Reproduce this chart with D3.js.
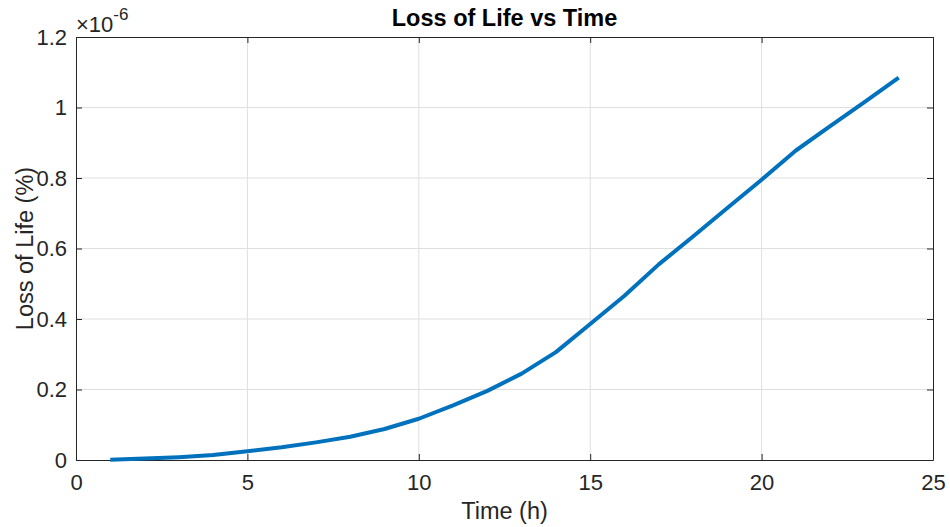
<!DOCTYPE html>
<html>
<head>
<meta charset="utf-8">
<script src="https://cdn.jsdelivr.net/npm/d3@7"></script>
<style>
  body { margin: 0; background: #fff; }
  svg { display: block; font-family: "Liberation Sans", Arial, sans-serif; }
</style>
</head>
<body>
<svg></svg>
<script>
// hours and loss of life (in units of 1e-6 %)
const hours = [1, 2, 3, 4, 5, 6, 7, 8, 9, 10, 11, 12, 13, 14, 15, 16, 17, 18, 19, 20, 21, 22, 23, 24];
const loss = [0.001, 0.004, 0.008, 0.014, 0.025, 0.036, 0.050, 0.066, 0.088, 0.117, 0.155, 0.196,
              0.245, 0.306, 0.386, 0.466, 0.555, 0.634, 0.715, 0.795, 0.878, 0.947, 1.015, 1.085];
const xTicks = [0, 5, 10, 15, 20, 25];
const yTicks = [0, 0.2, 0.4, 0.6, 0.8, 1, 1.2];

const width = 950, height = 527;
const margin = {left: 76, right: 17, top: 37, bottom: 67};
const textColor = "#262626";

const svg = d3.select("svg")
  .attr("width", width)
  .attr("height", height);

const x = d3.scaleLinear().domain([0, 25]).range([margin.left, width - margin.right]);
const y = d3.scaleLinear().domain([0, 1.2]).range([height - margin.bottom, margin.top]);

// grid
svg.append("g")
  .selectAll("line")
  .data(xTicks.slice(1, -1))
  .enter()
  .append("line")
  .attr("x1", d => x(d)).attr("x2", d => x(d))
  .attr("y1", y(0)).attr("y2", y(1.2))
  .attr("stroke", "#dfdfdf");

svg.append("g")
  .selectAll("line")
  .data(yTicks.slice(1, -1))
  .enter()
  .append("line")
  .attr("x1", x(0)).attr("x2", x(25))
  .attr("y1", d => y(d)).attr("y2", d => y(d))
  .attr("stroke", "#dfdfdf");

// axes, ticks point inward (matlab style)
const fmt = d => d === 0 ? "0" : (Number.isInteger(d) ? String(d) : d.toFixed(1));

const styleAxis = g => {
  g.select(".domain").attr("stroke", textColor);
  g.selectAll(".tick line").attr("stroke", textColor);
  g.selectAll(".tick text").attr("fill", textColor).style("font-size", "22px");
};

svg.append("g")
  .attr("transform", `translate(0,${y(0)})`)
  .call(d3.axisBottom(x).tickValues(xTicks).tickSize(-6).tickPadding(14).tickSizeOuter(0).tickFormat(fmt))
  .call(styleAxis)
  .call(g => g.selectAll(".tick text").attr("dy", "0.71em"));

svg.append("g")
  .attr("transform", `translate(${x(0)},0)`)
  .call(d3.axisLeft(y).tickValues(yTicks).tickSize(-6).tickPadding(9).tickSizeOuter(0).tickFormat(fmt))
  .call(styleAxis);

svg.append("g")
  .attr("transform", `translate(0,${y(1.2)})`)
  .call(d3.axisTop(x).tickValues(xTicks).tickSize(-6).tickSizeOuter(0).tickFormat(""))
  .call(styleAxis);

svg.append("g")
  .attr("transform", `translate(${x(25)},0)`)
  .call(d3.axisRight(y).tickValues(yTicks).tickSize(-6).tickSizeOuter(0).tickFormat(""))
  .call(styleAxis);

// data line
const line = d3.line()
  .x((d, i) => x(hours[i]))
  .y(d => y(d));

svg.append("path")
  .datum(loss)
  .attr("fill", "none")
  .attr("stroke", "#0072BD")
  .attr("stroke-width", 4)
  .attr("stroke-linejoin", "round")
  .attr("d", line);

// exponent label
const exp = svg.append("text")
  .attr("x", x(0))
  .attr("y", 32)
  .attr("fill", textColor)
  .style("font-size", "22px");
exp.append("tspan").text("\u00d710");
exp.append("tspan").attr("dy", -12).style("font-size", "17px").text("-6");

// title and labels
svg.append("text")
  .attr("x", (x(0) + x(25)) / 2)
  .attr("y", 26)
  .attr("text-anchor", "middle")
  .attr("font-weight", "bold")
  .attr("fill", "#000")
  .style("font-size", "23.5px")
  .text("Loss of Life vs Time");

svg.append("text")
  .attr("x", (x(0) + x(25)) / 2)
  .attr("y", 519)
  .attr("text-anchor", "middle")
  .attr("fill", textColor)
  .style("font-size", "23.5px")
  .text("Time (h)");

svg.append("text")
  .attr("transform", `translate(33,${(y(0) + y(1.2)) / 2}) rotate(-90)`)
  .attr("text-anchor", "middle")
  .attr("fill", textColor)
  .style("font-size", "23.5px")
  .text("Loss of Life (%)");
</script>
</body>
</html>
